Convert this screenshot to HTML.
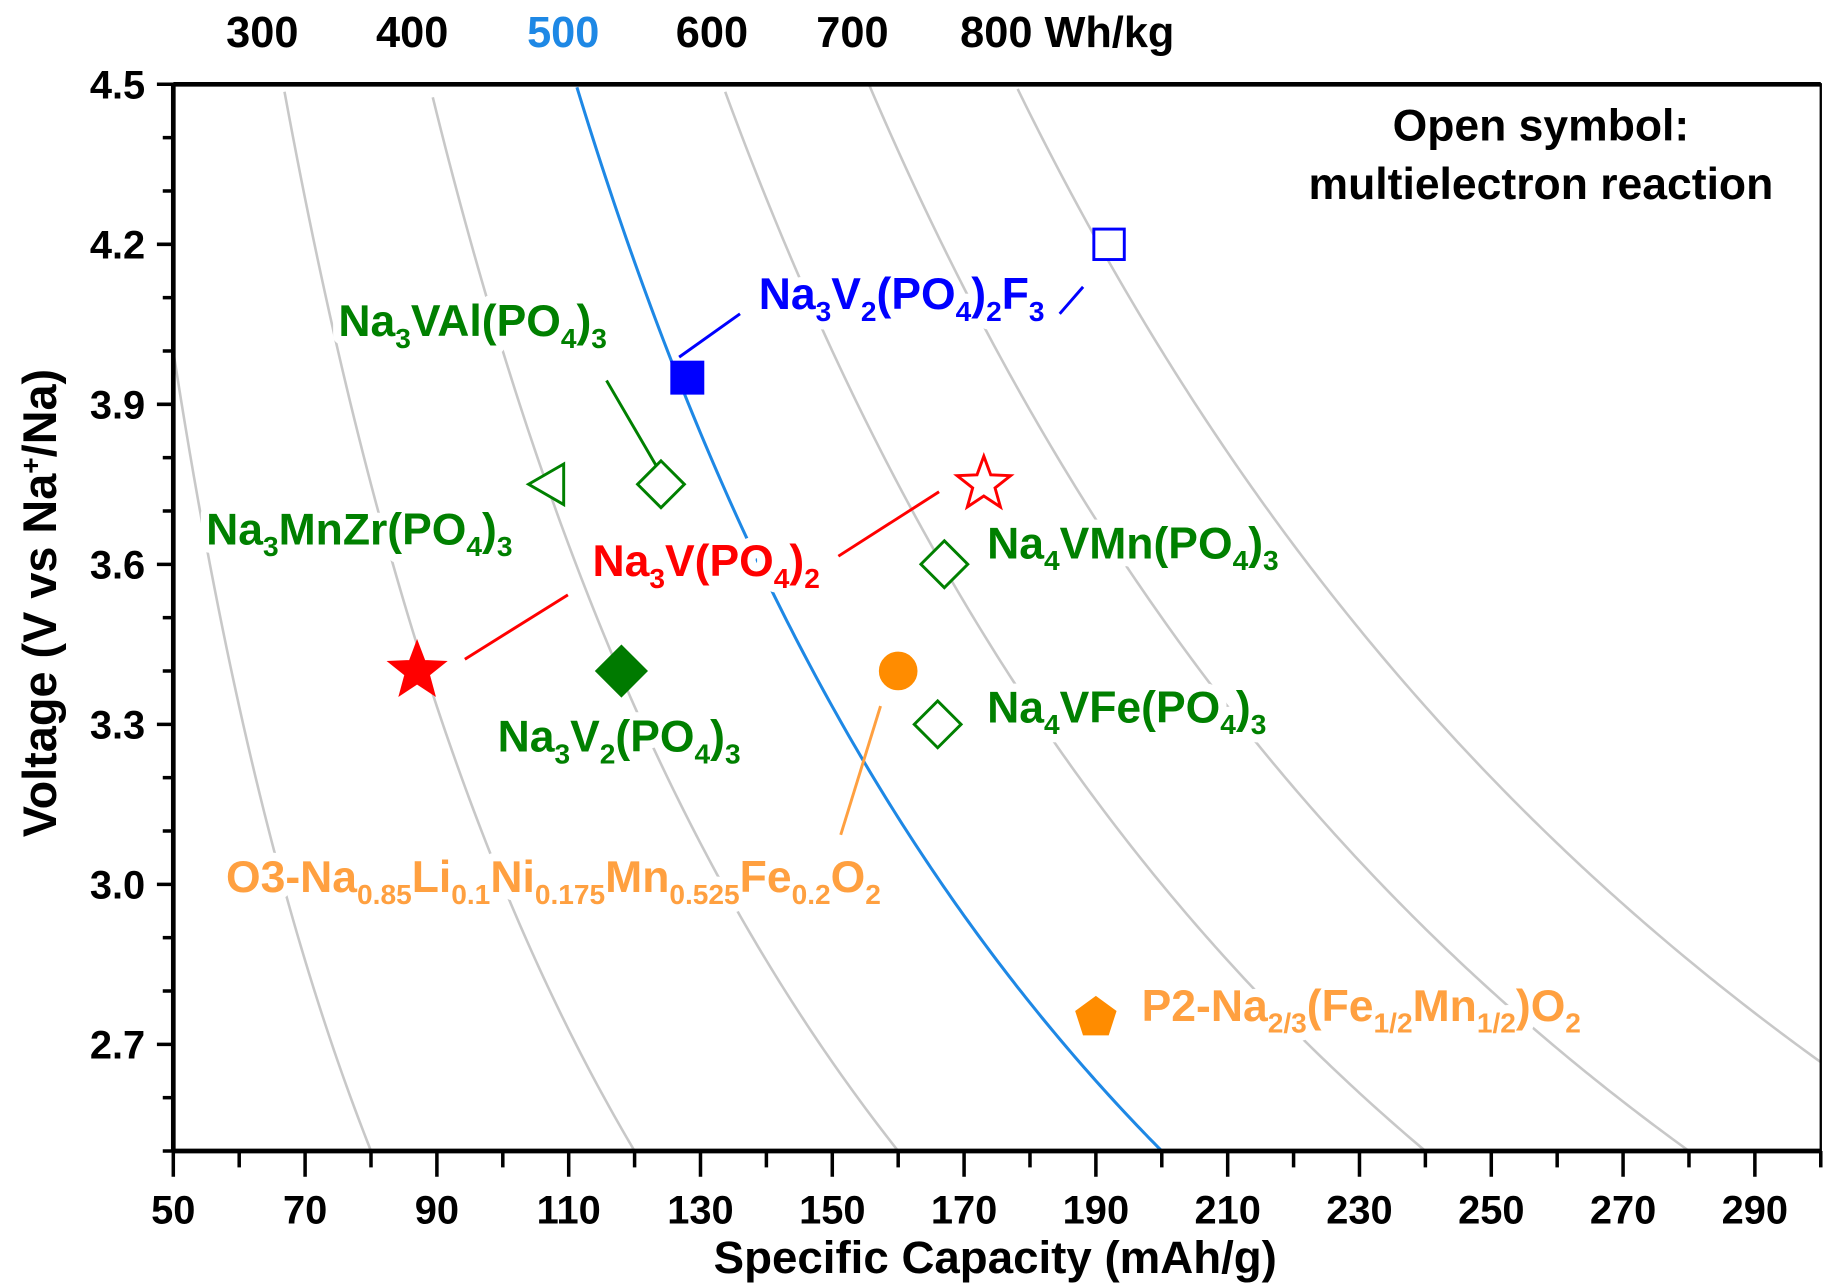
<!DOCTYPE html>
<html><head><meta charset="utf-8"><style>
html,body{margin:0;padding:0;background:#fff;}
svg{display:block;}
text{font-family:"Liberation Sans",Arial,sans-serif;font-weight:bold;}
.halo{stroke:#fff;stroke-width:14px;stroke-linejoin:round;fill:#fff;}
</style></head><body>
<svg id="chart" width="1836" height="1288" viewBox="0 0 1568 1100" xmlns="http://www.w3.org/2000/svg">
<g id="curves"></g>
<g id="axes"></g>
<g id="leaders"></g>
<g id="labels"></g>
<g id="marks"></g>
</svg>
<script>
const xTicks=[50,70,90,110,130,150,170,190,210,230,250,270,290];
const yTicks=[4.5,4.2,3.9,3.6,3.3,3.0,2.7];
const energies=[200,300,400,500,600,700,800];
const energyLabels=["300","400","500","600","700","800 Wh/kg"];
const pointCaps=[128,192,108,124,173,87,118,167,166,160,190];
const pointVolts=[3.95,4.2,3.75,3.75,3.75,3.4,3.4,3.6,3.3,3.4,2.75];
const pointShapes=["square","square","triangle","diamond","star","star","diamond","diamond","diamond","circle","pentagon"];
const pointFilled=[true,false,false,false,false,true,true,false,false,true,true];
const pointColors=["#0000ff","#0000ff","#008000","#008000","#ff0000","#ff0000","#007a00","#008000","#008000","#ff8c00","#ff8c00"];
const pointNames=["na3v2po42f3-filled","na3v2po42f3-open","na3mnzrpo43","na3valpo43","na3vpo42-open","na3vpo42-filled","na3v2po43","na4vmnpo43","na4vfepo43","o3-layered-oxide","p2-layered-oxide"];

const NS="http://www.w3.org/2000/svg";
const X0=148,X1=1555,Y0=72,Y1=983,XMIN=50,XMAX=300,YMIN=2.5,YMAX=4.5;
const sx=c=>X0+(c-XMIN)/(XMAX-XMIN)*(X1-X0);
const sy=v=>Y0+(YMAX-v)/(YMAX-YMIN)*(Y1-Y0);
function mk(tag,attrs,parent){const e=document.createElementNS(NS,tag);for(const k in attrs)e.setAttribute(k,attrs[k]);parent.appendChild(e);return e;}

const cg=document.getElementById('curves');
energies.forEach(E=>{
  let d="";let started=false;
  for(let i=0;i<=400;i++){const c=XMIN+(XMAX-XMIN)*i/400;const v=E/c;
    if(v>YMAX||v<YMIN){continue;}
    d+=(started?"L":"M")+sx(c).toFixed(2)+","+sy(v).toFixed(2);started=true;}
  const p=mk('path',{d:d,fill:'none',stroke:E===500?'#1e88e5':'#c8c8c8','stroke-width':E===500?2.6:2.2},cg);
  
  
});

const ag=document.getElementById('axes');
mk('rect',{x:X0,y:Y0,width:X1-X0,height:Y1-Y0,fill:'none',stroke:'#000','stroke-width':2},ag);
mk('line',{x1:X0,y1:Y0,x2:X1,y2:Y0,stroke:'#000','stroke-width':4},ag);
mk('line',{x1:X0,y1:Y1,x2:X1,y2:Y1,stroke:'#000','stroke-width':4},ag);
mk('line',{x1:X0,y1:Y0,x2:X0,y2:Y1,stroke:'#000','stroke-width':4},ag);
for(let c=XMIN;c<=XMAX;c+=10){const major=xTicks.includes(c);
  mk('line',{x1:sx(c),y1:Y1,x2:sx(c),y2:Y1+(major?22:14),stroke:'#000','stroke-width':3},ag);}
xTicks.forEach(c=>{const t=mk('text',{x:sx(c),y:1045,'text-anchor':'middle','font-size':34,fill:'#000'},ag);t.textContent=c;
  });
for(let i=0;i<=20;i++){const v=YMIN+i*0.1;const major=yTicks.some(t=>Math.abs(t-v)<1e-6);
  mk('line',{x1:X0,y1:sy(v),x2:X0-(major?14:9),y2:sy(v),stroke:'#000','stroke-width':3},ag);}
yTicks.forEach(v=>{const t=mk('text',{x:124,y:sy(v)+12,'text-anchor':'end','font-size':34,fill:'#000'},ag);t.textContent=v.toFixed(1);
  });
const xt=mk('text',{x:850,y:1087,'text-anchor':'middle','font-size':39,fill:'#000'},ag);xt.textContent="Specific Capacity (mAh/g)";

const yt=mk('text',{x:0,y:0,'text-anchor':'middle','font-size':40,fill:'#000',transform:'translate(48,515) rotate(-90)'},ag);
yt.innerHTML='Voltage (V vs Na<tspan font-size="24" dy="-14">+</tspan><tspan dy="14">/Na)</tspan>';

const topX=[224,352,481,608,728,820];
energyLabels.forEach((s,i)=>{const t=mk('text',{x:topX[i],y:40,'text-anchor':i<5?'middle':'start','font-size':37,fill:i===2?'#1e88e5':'#000'},ag);t.textContent=s;
  });

const lg=document.getElementById('leaders');
[[632,268,580,305,'#0000ff'],[905,268,925,245,'#0000ff'],[518,325,560,397,'#008000'],[485,508,397,563,'#ff0000'],[716,475,802,420,'#ff0000'],[718,713,752,603,'#ffa040']].forEach(l=>{
  const e=mk('line',{x1:l[0],y1:l[1],x2:l[2],y2:l[3],stroke:l[4],'stroke-width':2.5},lg);
  });

const lab=document.getElementById('labels');
function formula(x,y,col,html,name){
  const h=mk('text',{x:x,y:y,'font-size':38,class:'halo'},lab);h.innerHTML=html;
  
  const t=mk('text',{x:x,y:y,'font-size':38,fill:col},lab);t.innerHTML=html;
  return t;}
const s=n=>`<tspan font-size="24" dy="10">${n}</tspan><tspan dy="-10">`;
const e='</tspan>';
formula(648,264,'#0000ff',`Na${s(3)}V${e}${s(2)}(PO${e}${s(4)})${e}${s(2)}F${e}${s(3)}${e}`,'label-na3v2po42f3');
formula(289,287,'#008000',`Na${s(3)}VAl(PO${e}${s(4)})${e}${s(3)}${e}`,'label-na3valpo43');
formula(176,465,'#008000',`Na${s(3)}MnZr(PO${e}${s(4)})${e}${s(3)}${e}`,'label-na3mnzrpo43');
formula(506,492,'#ff0000',`Na${s(3)}V(PO${e}${s(4)})${e}${s(2)}${e}`,'label-na3vpo42');
formula(843,477,'#008000',`Na${s(4)}VMn(PO${e}${s(4)})${e}${s(3)}${e}`,'label-na4vmnpo43');
formula(843,617,'#008000',`Na${s(4)}VFe(PO${e}${s(4)})${e}${s(3)}${e}`,'label-na4vfepo43');
formula(425,642,'#008000',`Na${s(3)}V${e}${s(2)}(PO${e}${s(4)})${e}${s(3)}${e}`,'label-na3v2po43');
formula(193,762,'#ffa040',`O3-Na${s('0.85')}Li${e}${s('0.1')}Ni${e}${s('0.175')}Mn${e}${s('0.525')}Fe${e}${s('0.2')}O${e}${s(2)}${e}`,'label-o3-oxide');
formula(975,872,'#ffa040',`P2-Na${s('2/3')}(Fe${e}${s('1/2')}Mn${e}${s('1/2')})O${e}${s(2)}${e}`,'label-p2-oxide');
const n1=mk('text',{x:1316,y:120,'text-anchor':'middle','font-size':38,fill:'#000'},lab);n1.textContent="Open symbol:";

const n2=mk('text',{x:1316,y:170,'text-anchor':'middle','font-size':38,fill:'#000'},lab);n2.textContent="multielectron reaction";


const mg=document.getElementById('marks');
function starPts(cx,cy,R,r){let p=[];for(let i=0;i<10;i++){const a=-Math.PI/2+i*Math.PI/5;const rr=i%2?r:R;p.push((cx+rr*Math.cos(a)).toFixed(1)+","+(cy+rr*Math.sin(a)).toFixed(1));}return p.join(" ");}
function polyPts(cx,cy,R,n,rot){let p=[];for(let i=0;i<n;i++){const a=rot+i*2*Math.PI/n;p.push((cx+R*Math.cos(a)).toFixed(1)+","+(cy+R*Math.sin(a)).toFixed(1));}return p.join(" ");}
pointCaps.forEach((c,i)=>{
  const cx=sx(c),cy=sy(pointVolts[i]),col=pointColors[i],f=pointFilled[i];
  const st={fill:f?col:'#fff',stroke:col,'stroke-width':f?1:2.5};
  let el;const sh=pointShapes[i];
  if(sh==='square'){const h=f?14:13;el=mk('rect',Object.assign({x:cx-h,y:cy-h,width:2*h,height:2*h},st),mg);}
  else if(sh==='diamond'){el=mk('polygon',Object.assign({points:polyPts(cx,cy,f?22:20,4,-Math.PI/2)},st),mg);}
  else if(sh==='triangle'){el=mk('polygon',Object.assign({points:polyPts(cx-3,cy,20,3,Math.PI)},st),mg);}
  else if(sh==='star'){el=mk('polygon',Object.assign({points:starPts(cx,cy,f?26:24,f?11:10)},st),mg);}
  else if(sh==='circle'){el=mk('circle',Object.assign({cx:cx,cy:cy,r:16},st),mg);}
  else {el=mk('polygon',Object.assign({points:polyPts(cx,cy,18,5,-Math.PI/2)},st),mg);}
  
  
});
</script>
</body></html>
